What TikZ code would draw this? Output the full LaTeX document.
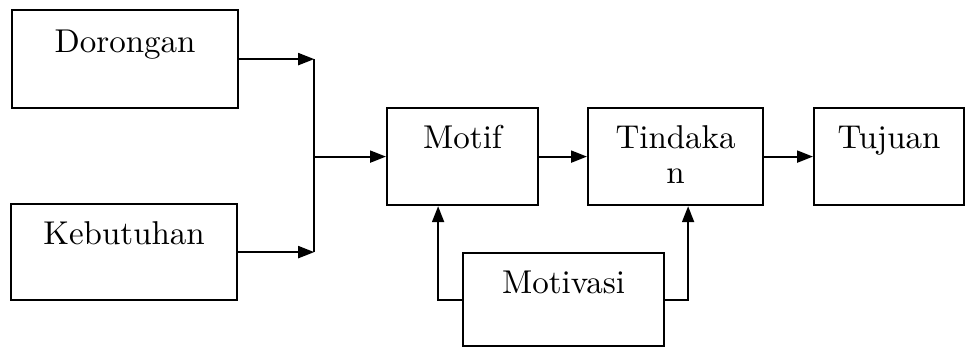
\documentclass[tikz,border=0pt]{standalone}
\usepackage{fontspec}
\usetikzlibrary{arrows.meta}
\newfontfamily\boxfont{lmroman10-regular.otf}
\begin{document}
\begin{tikzpicture}[x=1pt,y=-1pt,
  box/.style={draw=black, line width=2.2pt, rectangle, anchor=north west, inner sep=0pt},
  lbl/.style={anchor=base, inner sep=0pt, align=center, font=\boxfont\fontsize{33}{35}\selectfont},
  arr/.style={line width=2pt, -{Triangle[length=16pt,width=12pt]}},
  ln/.style={line width=2pt}]
\useasboundingbox (0,0) rectangle (965,348);

% boxes
\node[box, minimum width=226pt, minimum height=98pt] (dor) at (11,9) {};
\node[box, minimum width=226pt, minimum height=96pt] (keb) at (10,203) {};
\node[box, minimum width=151pt, minimum height=97pt] (mot) at (386,107) {};
\node[box, minimum width=175pt, minimum height=97pt] (tin) at (587,107) {};
\node[box, minimum width=150pt, minimum height=97pt] (tuj) at (813,107) {};
\node[box, minimum width=201pt, minimum height=93pt] (mov) at (462,252) {};

% labels
\node[lbl] at (dor.center |- 0,52) {Dorongan};
\node[lbl] at (keb.center |- 0,244) {Kebutuhan};
\node[lbl] at (mot.center |- 0,148) {Motif};
\node[lbl] at (tin.center |- 0,183) {Tindaka\\n};
\node[lbl] at (tuj.center |- 0,148) {Tujuan};
\node[lbl] at (mov.center |- 0,293) {Motivasi};

% junction of the two inputs
\coordinate (jt) at ([xshift=75pt]dor.east);
\coordinate (jb) at (jt |- keb.east);
\coordinate (jm) at (jt |- mot.west);

\draw[arr] (dor.east) -- (jt);
\draw[arr] (keb.east) -- (jb);
\draw[ln] (jt) -- (jb);
\draw[arr] (jm) -- (mot.west);
\draw[arr] (mot.east) -- (tin.west);
\draw[arr] (tin.east) -- (tuj.west);

% feedback from Motivasi
\coordinate (ml) at ([xshift=-24.5pt]mot.south);
\coordinate (tr) at ([xshift=12.5pt]tin.south);
\draw[arr] (mov.west) -| (ml);
\draw[arr] (mov.east) -| (tr);
\end{tikzpicture}
\end{document}
